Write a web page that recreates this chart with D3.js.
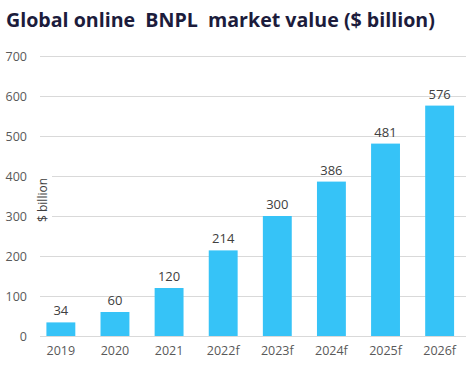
<!DOCTYPE html>
<html>
<head>
<meta charset="utf-8">
<script src="https://cdn.jsdelivr.net/npm/d3@7"></script>
<style>
  body { margin: 0; background: #fff; }
  svg { display: block; font-family: "Open Sans", "DejaVu Sans", sans-serif; }
</style>
</head>
<body>
<svg id="chart"></svg>
<script>
// data
var years = ["2019", "2020", "2021", "2022f", "2023f", "2024f", "2025f", "2026f"]
var values = [34, 60, 120, 214, 300, 386, 481, 576]
var yTicks = [0, 100, 200, 300, 400, 500, 600, 700]

var W = 474, H = 375

var svg = d3.select("#chart").attr("width", W).attr("height", H)

// title, squeezed to the width it has in the picture
var title = svg.append("text")
    .attr("x", 6)
    .attr("y", 27)
    .attr("font-size", 20)
    .attr("font-weight", 700)
    .attr("fill", "#1c1c3c")
    .style("white-space", "pre")
    .text("Global online  BNPL  market value ($ billion)")
var tw = title.node().getComputedTextLength()
title.attr("font-size", 20 * 429 / tw)

var x = d3.scaleBand()
    .domain(years)
    .range([41, 459.5])
    .paddingInner(0.466)
    .paddingOuter(0.1)

var y = d3.scaleLinear().domain([0, 700]).range([336, 56])

// gridlines + y labels
var yAxis = svg.append("g")
    .attr("transform", "translate(40,0)")
    .call(d3.axisLeft(y).tickValues(yTicks).tickSize(-426).tickPadding(13))

yAxis.select(".domain").remove()
yAxis.selectAll(".tick line").attr("stroke", "#d9d9d9").attr("stroke-width", 1)
yAxis.selectAll(".tick text")
    .attr("font-size", 12.5)
    .attr("fill", "#595959")
    .attr("font-family", "Open Sans, sans-serif")

// axis title with a white patch behind it, gridlines stop there
var yt = svg.append("g").attr("transform", "translate(47,200) rotate(-90)")
yt.append("rect").attr("x", -30).attr("y", -11).attr("width", 60).attr("height", 16).attr("fill", "#fff")
yt.append("text")
    .attr("text-anchor", "middle")
    .attr("font-size", 12)
    .attr("fill", "#404040")
    .text("$ billion")

// bars
svg.append("g").selectAll("rect")
    .data(values)
    .enter()
    .append("rect")
    .attr("x", (d, i) => x(years[i]))
    .attr("y", d => y(d))
    .attr("width", x.bandwidth())
    .attr("height", d => y(0) - y(d))
    .attr("fill", "#36c3f7")

// value labels
svg.append("g").selectAll("text")
    .data(values)
    .enter()
    .append("text")
    .attr("x", (d, i) => x(years[i]) + x.bandwidth() / 2)
    .attr("y", d => y(d) - 7)
    .attr("text-anchor", "middle")
    .attr("font-size", 13)
    .attr("fill", "#404040")
    .text(d => d)

// x labels
var xAxis = svg.append("g")
    .attr("transform", "translate(0," + y(0) + ")")
    .call(d3.axisBottom(x).tickSize(0).tickPadding(10))
xAxis.select(".domain").remove()
xAxis.selectAll(".tick text")
    .attr("font-size", 12.5)
    .attr("fill", "#595959")
    .attr("font-family", "Open Sans, sans-serif")
</script>
</body>
</html>
